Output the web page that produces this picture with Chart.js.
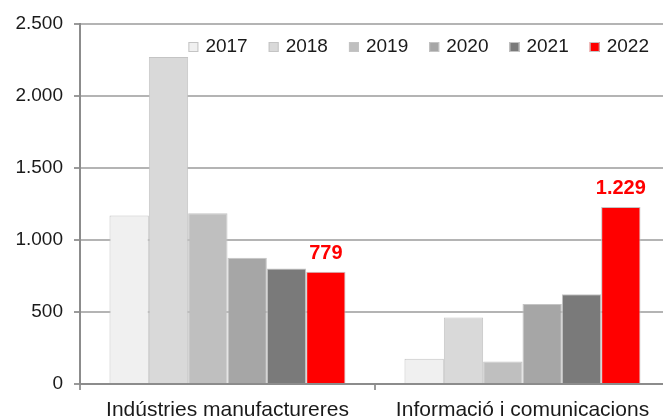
<!DOCTYPE html>
<html>
<head>
<meta charset="utf-8">
<script src="https://cdn.jsdelivr.net/npm/chart.js@4.4.1/dist/chart.umd.min.js"></script>
<style>
  html, body { margin: 0; padding: 0; background: #fff; overflow: hidden; }
  #wrap { width: 670px; height: 419px; }
</style>
</head>
<body>
<div id="wrap"><canvas id="myBarChart"></canvas></div>
<script>
// dades
const categories = ['Indústries manufactureres', 'Informació i comunicacions'];
const years = ['2017', '2018', '2019', '2020', '2021', '2022'];
const values2017 = [1170, 175];
const values2018 = [2270, 462];
const values2019 = [1186, 157];
const values2020 = [876, 555];
const values2021 = [802, 624];
const values2022 = [779, 1229];
const yTicks = [0, 500, 1000, 1500, 2000, 2500];

const seriesValues = [values2017, values2018, values2019, values2020, values2021, values2022];
const barColors = ['#f0f0f0', '#d9d9d9', '#bfbfbf', '#a6a6a6', '#7a7a7a', '#ff0000'];
const FONT = '"Liberation Sans", Arial, sans-serif';

const fmt = v => String(v).replace(/\B(?=(\d{3})+(?!\d))/g, '.');

// llegenda dins de l'area del grafic
const legendInside = {
  id: 'legendInside',
  afterDraw(chart) {
    const { ctx, chartArea } = chart;
    ctx.save();
    ctx.font = '19px ' + FONT;
    ctx.textBaseline = 'middle';
    const box = 10, gapText = 7, gapItem = 21;
    const items = chart.data.datasets.map(ds => ({ ds, w: ctx.measureText(ds.label).width }));
    const total = items.reduce((s, it) => s + box + gapText + it.w, 0) + gapItem * (items.length - 1);
    let x = chartArea.right - 21 - total;
    const y = chartArea.top + 23;
    items.forEach(it => {
      ctx.fillStyle = it.ds.backgroundColor;
      ctx.fillRect(x, y - box / 2, box, box);
      ctx.strokeStyle = '#c4c4c4';
      ctx.lineWidth = 1;
      ctx.strokeRect(x + 0.5, y - box / 2 + 0.5, box - 1, box - 1);
      ctx.fillStyle = '#1a1a1a';
      ctx.fillText(it.ds.label, x + box + gapText, y);
      x += box + gapText + it.w + gapItem;
    });
    ctx.restore();
  }
};

// etiquetes de valor nomes per al 2022
const labels2022 = {
  id: 'labels2022',
  afterDatasetsDraw(chart) {
    const { ctx } = chart;
    const i = chart.data.datasets.length - 1;
    const meta = chart.getDatasetMeta(i);
    ctx.save();
    ctx.font = 'bold 20px ' + FONT;
    ctx.fillStyle = '#ff0000';
    ctx.textAlign = 'center';
    ctx.textBaseline = 'alphabetic';
    meta.data.forEach((bar, j) => {
      ctx.fillText(fmt(chart.data.datasets[i].data[j]), bar.x, bar.y - 13);
    });
    ctx.restore();
  }
};

document.addEventListener('DOMContentLoaded', function() {
  const ctx = document.getElementById('myBarChart').getContext('2d');

  const chartData = {
    labels: categories,
    datasets: years.map((y, k) => ({
      label: y,
      data: seriesValues[k],
      backgroundColor: barColors[k],
      borderColor: '#c4c4c4',
      borderWidth: 1,
      barPercentage: 1.0,
      categoryPercentage: 0.8
    }))
  };

  new Chart(ctx, {
    type: 'bar',
    data: chartData,
    plugins: [legendInside, labels2022],
    options: {
      responsive: true,
      maintainAspectRatio: false,
      devicePixelRatio: 1,
      animation: false,
      layout: { padding: { top: 24, right: 0, bottom: 0, left: 0 } },
      plugins: {
        legend: { display: false },
        tooltip: { enabled: false }
      },
      scales: {
        x: {
          offset: true,
          afterFit: s => { s.height = 35; },
          grid: {
            offset: true,
            drawOnChartArea: false,
            drawTicks: true,
            tickLength: 6,
            tickColor: '#9a9a9a',
            lineWidth: 2
          },
          border: { color: '#8c8c8c', width: 2 },
          ticks: {
            padding: 8,
            color: '#1a1a1a',
            font: { family: FONT, size: 21 }
          }
        },
        y: {
          min: 0,
          max: 2500,
          afterFit: s => { s.width = 80; },
          afterBuildTicks: s => { s.ticks = yTicks.map(v => ({ value: v })); },
          grid: {
            color: '#b4b4b4',
            lineWidth: 2,
            tickLength: 6,
            tickColor: '#9a9a9a'
          },
          border: { color: '#8c8c8c', width: 2 },
          ticks: {
            padding: 11,
            color: '#1a1a1a',
            font: { family: FONT, size: 19 },
            callback: v => fmt(v)
          }
        }
      }
    }
  });
});
</script>
</body>
</html>
